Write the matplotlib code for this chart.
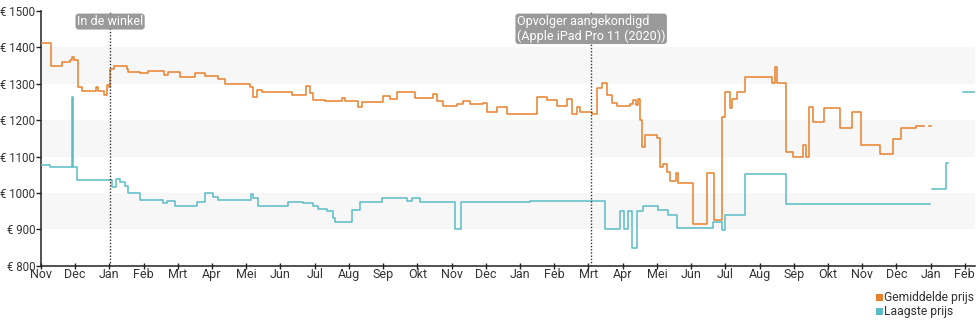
import numpy as np
import matplotlib
matplotlib.use("Agg")
import matplotlib.pyplot as plt
from matplotlib.patches import Rectangle

plt.rcParams['font.family'] = ['Roboto', 'DejaVu Sans']

# x positions are in months since Nov 2018 (0 = Nov, 1 = Dec, ...)
month_labels = ["Nov", "Dec", "Jan", "Feb", "Mrt", "Apr", "Mei", "Jun", "Jul", "Aug",
                "Sep", "Okt", "Nov", "Dec", "Jan", "Feb", "Mrt", "Apr", "Mei", "Jun",
                "Jul", "Aug", "Sep", "Okt", "Nov", "Dec", "Jan", "Feb"]
y_ticks = [800, 900, 1000, 1100, 1200, 1300, 1400, 1500]
y_tick_labels = ["€ 800", "€ 900", "€ 1000", "€ 1100", "€ 1200", "€ 1300", "€ 1400", "€ 1500"]

avg_x = [0.00, 0.29, 0.61, 0.85, 0.91, 0.96, 1.08, 1.20, 1.61, 1.67, 1.84, 1.93, 1.99,
         2.02, 2.13, 2.51, 2.54, 2.89, 3.13, 3.60, 3.71, 4.06, 4.50, 4.80, 5.18, 5.38,
         6.11, 6.20, 6.32, 6.46, 7.34, 7.66, 7.75, 7.87, 7.95, 8.30, 8.80, 8.89, 9.27,
         9.39, 10.00, 10.20, 10.41, 10.94, 11.46, 11.58, 11.75, 12.16, 12.34, 12.54,
         12.92, 13.04, 13.33, 13.63, 14.50, 14.80, 15.09, 15.38, 15.53, 15.67, 15.76,
         16.11, 16.26, 16.40, 16.55, 16.70, 16.84, 17.22, 17.31, 17.40, 17.46, 17.51,
         17.57, 17.66, 18.01, 18.10, 18.19, 18.30, 18.39, 18.57, 18.63, 19.06, 19.47,
         19.68, 19.91, 20.00, 20.15, 20.20, 20.35, 20.58, 21.37, 21.46, 21.52, 21.78,
         21.99, 22.28, 22.37, 22.46, 22.57, 22.87, 23.36, 23.71, 23.98, 24.53, 24.91,
         25.12, 25.56, 25.82, 25.94, 26.02]
avg_y = [1412, 1349, 1360, 1365, 1374, 1365, 1291, 1280, 1290, 1280, 1270, 1295, 1290,
         1339, 1348, 1340, 1331, 1328, 1335, 1325, 1332, 1319, 1328, 1320, 1312, 1300,
         1291, 1264, 1282, 1278, 1268, 1270, 1293, 1275, 1255, 1252, 1260, 1252, 1235,
         1250, 1266, 1257, 1278, 1260, 1272, 1251, 1238, 1245, 1253, 1245,
         1247, 1223, 1237, 1218, 1264, 1255, 1238, 1257, 1218, 1237, 1223,
         1218, 1287, 1301, 1270, 1247, 1238, 1245, 1255, 1241, 1257, 1200,
         1125, 1160, 1150, 1071, 1080, 1057, 1033, 1055, 1028, 916, 1054,
         925, 1209, 1278, 1233, 1259, 1278, 1319, 1303, 1346, 1301, 1113,
         1098, 1131, 1098, 1236, 1195, 1232, 1177, 1223, 1131, 1108, 1148,
         1177, 1183, np.nan, 1183, 1183]

low_x = [0.00, 0.26, 0.88, 0.91, 0.94, 1.05, 2.08, 2.19, 2.31, 2.46, 2.54, 2.89, 3.57,
         3.68, 3.92, 4.56, 4.80, 5.03, 5.18, 6.14, 6.20, 6.35, 7.22, 7.66, 7.95, 8.10,
         8.36, 8.54, 8.60, 9.09, 9.33, 9.97, 10.70, 10.85, 11.08, 12.11, 12.28, 14.30,
         16.49, 16.93, 17.05, 17.16, 17.28, 17.43, 17.60, 18.04, 18.33, 18.60, 19.65,
         19.91, 20.00, 20.58, 21.78, 25.99, 26.05, 26.46, 26.52, 26.96, 27.31]
low_y = [1076, 1070, 1070, 1264, 1070, 1035, 1017, 1037, 1030, 1020, 1001, 982, 972,
         978, 964, 974, 999, 990, 980, 997, 985, 964, 974, 972, 964, 956,
         951, 930, 920, 953, 976, 987, 978, 987, 976, 900, 975, 978,
         900, 951, 900, 951, 850, 951, 965, 953, 939, 903, 921,
         897, 939, 1052, 971, np.nan, 1011, 1081, np.nan, 1278, 1278]

events_x = [2.02, 16.08]
events_text = ["In de winkel", "Opvolger aangekondigd\n(Apple iPad Pro 11 (2020))"]

orange = "#e8812b"
teal = "#5bbcc6"

fig = plt.figure(figsize=(9.8, 3.25), dpi=100)
ax = fig.add_axes([0.0418, 0.182, 0.9532, 0.785])

for lo, hi in [(900, 1000), (1100, 1200), (1300, 1400)]:
    ax.axhspan(lo, hi, color="#f7f7f7", zorder=0, lw=0)

ax.plot(avg_x, avg_y, drawstyle="steps-post", color=orange, lw=1.1, zorder=3)
ax.plot(low_x, low_y, drawstyle="steps-post", color=teal, lw=1.1, zorder=3)

for ex, et in zip(events_x, events_text):
    ax.axvline(ex, color="#333333", ls=(0, (1, 1.3)), lw=1.0, zorder=4)
    ax.text(ex, 0.983, et, transform=ax.get_xaxis_transform(), ha="center", va="top",
            multialignment="left", color="white", fontsize=9, zorder=5,
            linespacing=1.1,
            bbox=dict(boxstyle="round,pad=0.12,rounding_size=0.25", fc="#9a9a9a",
                      ec="none"))

ax.set_xlim(0, 27.3)
ax.set_ylim(800, 1500)
ax.set_xticks(range(len(month_labels)))
ax.set_xticklabels(month_labels)
ax.set_yticks(y_ticks)
ax.set_yticklabels(y_tick_labels)

for s in ["top", "right"]:
    ax.spines[s].set_visible(False)
for s in ["left", "bottom"]:
    ax.spines[s].set_color("#222222")
    ax.spines[s].set_linewidth(1.1)

ax.tick_params(axis="y", length=3.5, width=1, color="#222222", pad=0.5,
               labelsize=8.3, labelcolor="#333333")
ax.tick_params(axis="x", direction="inout", length=5, width=1, color="#222222",
               pad=-1, labelsize=9, labelcolor="#333333")

# legend (bottom right)
legend_items = [("Gemiddelde prijs", orange), ("Laagste prijs", teal)]
for i, (lab, col) in enumerate(legend_items):
    ypix = 297 + i * 14
    yf = 1 - ypix / 325
    fig.patches.append(Rectangle((876 / 980, yf - 3.5 / 325), 7 / 980, 7 / 325,
                                 transform=fig.transFigure, fc=col, ec="none"))
    fig.text(884 / 980, yf, lab, ha="left", va="center", fontsize=8.7, color="#333333")

fig.savefig("out.png", dpi=100)
